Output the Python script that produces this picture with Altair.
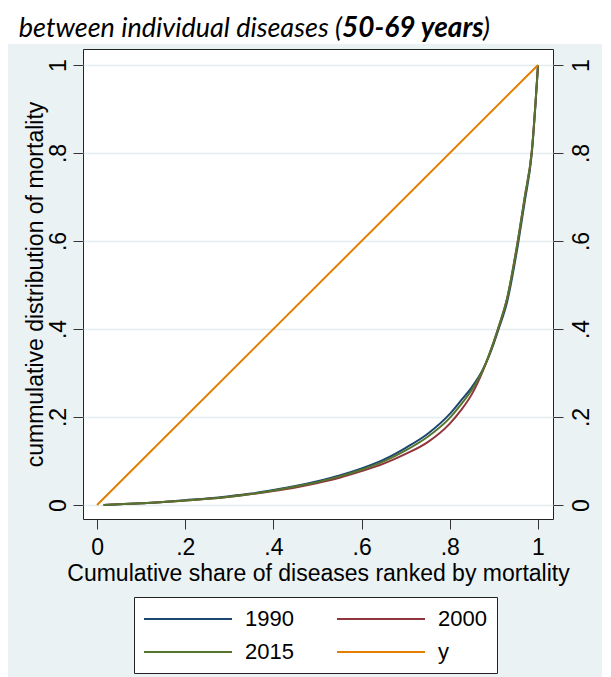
import altair as alt
import pandas as pd

# ---- data ----
share = [0.015, 0.05, 0.1, 0.15, 0.2, 0.25, 0.3, 0.35, 0.4, 0.45, 0.5, 0.55, 0.6,
         0.65, 0.7, 0.75, 0.8, 0.825, 0.85, 0.875, 0.9, 0.91, 0.93, 0.955, 0.97,
         0.986, 1.0]
mort_1990 = [0.000, 0.002, 0.004, 0.007, 0.011, 0.015, 0.020, 0.026, 0.034, 0.043,
             0.054, 0.067, 0.083, 0.103, 0.130, 0.162, 0.207, 0.237, 0.268, 0.308,
             0.368, 0.398, 0.462, 0.595, 0.690, 0.800, 1.0]
mort_2000 = [0.000, 0.002, 0.004, 0.007, 0.010, 0.014, 0.019, 0.025, 0.032, 0.040,
             0.050, 0.062, 0.077, 0.094, 0.116, 0.143, 0.185, 0.215, 0.252, 0.305,
             0.372, 0.402, 0.470, 0.605, 0.700, 0.805, 1.0]
mort_2015 = [0.000, 0.002, 0.004, 0.007, 0.010, 0.014, 0.019, 0.025, 0.033, 0.042,
             0.052, 0.065, 0.080, 0.099, 0.124, 0.155, 0.198, 0.228, 0.262, 0.307,
             0.372, 0.403, 0.470, 0.605, 0.700, 0.805, 1.0]
diag_x = [0.0, 1.0]
diag_y = [0.0, 1.0]

series_names = ["1990", "2000", "2015", "y"]
series_colors = ["#1A476F", "#90353B", "#55752F", "#E37E00"]
tick_vals = [0, 0.2, 0.4, 0.6, 0.8, 1]

title_regular = "between individual diseases ("
title_bold = "50-69 years"
title_close = ")"
x_title = "Cumulative share of diseases ranked by mortality"
y_title = "cummulative distribution of mortality"

# ---- tables ----
rows = []
for name, vals in [("1990", mort_1990), ("2000", mort_2000), ("2015", mort_2015)]:
    for sx, sy in zip(share, vals):
        rows.append({"x": sx, "y": sy, "series": name})
curves = pd.DataFrame(rows)
diag = pd.DataFrame({"x": diag_x, "y": diag_y, "series": "y"})
one = pd.DataFrame({"k": [0]})

FONT = "Liberation Sans"
lab = "datum.value == 0 ? '0' : datum.value == 1 ? '1' : '.' + round(datum.value * 10)"
xdom = [-0.0318, 1.034]
ydom = [-0.0318, 1.0364]

xenc = alt.X("x:Q", scale=alt.Scale(domain=xdom, nice=False, zero=False),
             axis=alt.Axis(values=tick_vals, labelExpr=lab, title=x_title, grid=False,
                           tickSize=10, labelPadding=7, titlePadding=3))

color = alt.Color("series:N",
                  scale=alt.Scale(domain=series_names, range=series_colors),
                  legend=alt.Legend(title=None, orient="none", legendX=51, legendY=548,
                                    direction="horizontal",
                                    columns=2, columnPadding=39, rowPadding=10,
                                    padding=10, strokeColor="#222", fillColor="white",
                                    symbolType="M-4,0H4", symbolSize=484,
                                    symbolOffset=32, labelOffset=45,
                                    symbolStrokeWidth=2, labelFont=FONT,
                                    labelFontSize=22, labelColor="black",
                                    labelBaseline="middle"))

strip = alt.Chart(one).mark_rect(color="white").encode(
    x=alt.value(-75), x2=alt.value(519), y=alt.value(-41), y2=alt.value(-5))

t1 = alt.Chart(one).mark_text(text=title_regular, font="Lato", fontStyle="italic",
                              fontSize=27, align="right", baseline="alphabetic",
                              color="black").encode(x=alt.value(259), y=alt.value(-12))
t2 = alt.Chart(one).mark_text(text=title_bold, font="Lato", fontStyle="italic",
                              fontWeight="bold", fontSize=28, align="left",
                              baseline="alphabetic", color="black").encode(
    x=alt.value(259), y=alt.value(-12))
t3 = alt.Chart(one).mark_text(text=title_close, font="Lato", fontStyle="italic",
                              fontSize=27, align="left", baseline="alphabetic",
                              color="black").encode(x=alt.value(400), y=alt.value(-12))

lines = alt.Chart(curves).mark_line(strokeWidth=2, interpolate="monotone").encode(
    x=xenc,
    y=alt.Y("y:Q", scale=alt.Scale(domain=ydom, nice=False, zero=False),
            axis=alt.Axis(orient="left", values=tick_vals, labelExpr=lab, title=y_title,
                          grid=True, gridColor="#E3ECEF", gridWidth=1.5, tickSize=10,
                          labelAngle=270, labelAlign="center", labelBaseline="bottom",
                          labelPadding=3, titlePadding=0)),
    color=color,
)

diagonal = alt.Chart(diag).mark_line(strokeWidth=2).encode(
    x=xenc,
    y=alt.Y("y:Q", scale=alt.Scale(domain=ydom, nice=False, zero=False),
            axis=alt.Axis(orient="right", values=tick_vals, labelExpr=lab, title=None,
                          grid=False, tickSize=10, labelAngle=270, labelAlign="center",
                          labelBaseline="top", labelPadding=7)),
    color=color,
)

chart = alt.layer(strip, t1, t2, t3, lines, diagonal).resolve_scale(
    y="independent"
).properties(
    width=470, height=470,
    autosize=alt.AutoSizeParams(type="none"),
    padding={"left": 75, "top": 41, "right": 49, "bottom": 158},
    background="#EAF2F3",
).configure_view(
    stroke="#222", strokeWidth=1, fill="white"
).configure_axis(
    domain=False, labelFont=FONT, labelFontSize=23, labelColor="black",
    titleFont=FONT, titleFontSize=23, titleFontWeight="normal", titleColor="black",
    tickColor="#333", tickWidth=1,
)

chart.save("out.html", embed_options={"renderer": "svg", "actions": False})
